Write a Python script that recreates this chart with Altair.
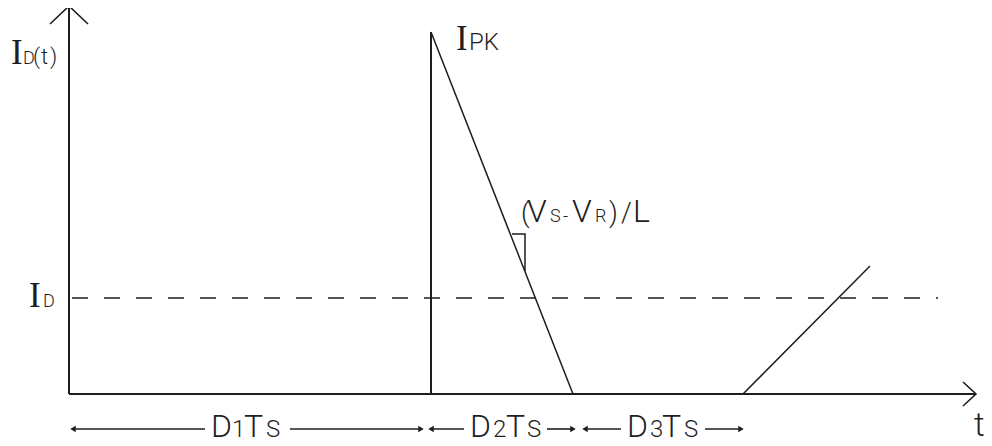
import altair as alt
import pandas as pd

# ---------------- data (t and i in drawing units, origin at the axes corner) ----
wave_t = [0, 362, 362, 504, 674, 801]
wave_i = [0, 0, 362, 0, 0, 128]
I_D_level = 96
I_D_span = [3, 869]
y_axis_top = 388
x_axis_end = 907
slope_t = [443, 456, 456]
slope_i = [160, 160, 123]

dim_names = ["D1Ts", "D2Ts", "D3Ts"]
dim_start = [1, 359, 513]
dim_end = [355, 507, 675]
dim_label_left = [144, 403, 560]
dim_label_right = [213, 470, 628]
dim_level = -35

# label pieces: (text, t, i)
serif_I = [("I", -58, 330), ("I", 387, 344), ("I", -40, 87)]
small18 = [("D", -46, 330), ("D", -26, 87), ("S", 481, 172), ("-", 494, 172), ("R", 526, 172)]
mid22 = [("(", -36, 330), ("t", -28, 330), (")", -19, 330)]
mid24 = [("PK", 400, 344), ("1", 163, -43), ("S", 197, -43), ("2", 424, -43), ("S", 458, -43),
         ("3", 581, -43), ("S", 615, -43)]
big32 = [("V", 458, 172), ("V", 503, 172), ("L", 564, 172),
         ("D", 142, -43), ("T", 175, -43), ("D", 401, -43), ("T", 437, -43),
         ("D", 558, -43), ("T", 593, -43)]
axis_t = [("t", 905, -42)]
paren27 = [("(", 452, 172), (")", 540, 172), ("/", 552, 172)]

# ---------------- scales ----------------
xs = alt.Scale(domain=[-61, 915], nice=False, zero=False)
ys = alt.Scale(domain=[-44, 386], nice=False, zero=False)
INK = "#1e1e1e"


def X(f):
    return alt.X(f, type="quantitative", scale=xs, axis=None)


def Y(f):
    return alt.Y(f, type="quantitative", scale=ys, axis=None)


def polyline(ts, is_, **kw):
    df = pd.DataFrame({"t": ts, "i": is_, "o": list(range(len(ts)))})
    return alt.Chart(df).mark_line(color=INK, **kw).encode(x=X("t"), y=Y("i"), order="o:Q")


layers = []
# axes
layers.append(polyline([0, 0], [0, y_axis_top], strokeWidth=2))
layers.append(polyline([-19, 0, 19], [y_axis_top - 18, y_axis_top, y_axis_top - 18], strokeWidth=1.6))
layers.append(polyline([0, x_axis_end], [0, 0], strokeWidth=2))
layers.append(polyline([x_axis_end - 13, x_axis_end, x_axis_end - 13], [12, 0, -12], strokeWidth=1.6))
# waveform
layers.append(polyline(wave_t[:3], wave_i[:3], strokeWidth=2))
layers.append(polyline(wave_t[2:], wave_i[2:], strokeWidth=1.5))
# I_D dashed level
layers.append(polyline(I_D_span, [I_D_level, I_D_level], strokeWidth=1.6, strokeDash=[16, 16]))
# slope marker
layers.append(polyline(slope_t, slope_i, strokeWidth=1.5))

# dimension arrows
segs = []
heads = []
for k in range(3):
    segs.append({"a": dim_start[k] + 3, "b": dim_label_left[k] - 8, "i": dim_level})
    segs.append({"a": dim_label_right[k] + 8, "b": dim_end[k] - 3, "i": dim_level})
    heads.append({"t": dim_start[k] + 3, "i": dim_level, "s": "triangle-left"})
    heads.append({"t": dim_end[k] - 3, "i": dim_level, "s": "triangle-right"})
seg_df = pd.DataFrame(segs)
head_df = pd.DataFrame(heads)
layers.append(alt.Chart(seg_df).mark_rule(color=INK, strokeWidth=1.6).encode(
    x=X("a"), x2="b:Q", y=Y("i")))
for shp in ["triangle-left", "triangle-right"]:
    layers.append(alt.Chart(head_df[head_df.s == shp]).mark_point(
        shape=shp, filled=True, color=INK, size=40, opacity=1).encode(x=X("t"), y=Y("i")))


def texts(pieces, font, size, weight="normal"):
    df = pd.DataFrame(pieces, columns=["txt", "t", "i"])
    return alt.Chart(df).mark_text(font=font, fontSize=size, fontWeight=weight, color=INK,
                                   align="left", baseline="alphabetic").encode(
        x=X("t"), y=Y("i"), text="txt:N")


layers.append(texts(serif_I, "Liberation Serif", 35))
layers.append(texts(small18, "Roboto", 18, 300))
layers.append(texts(mid22, "Roboto", 22, 300))
layers.append(texts(mid24, "Roboto", 24, 300))
layers.append(texts(big32, "Roboto", 32, 300))
layers.append(texts(axis_t, "Roboto", 33, 300))
layers.append(texts(paren27, "Roboto", 27, 300))

chart = alt.layer(*layers).properties(
    width=976, height=430, padding=0, autosize="none", background="white"
).configure_view(stroke=None)

chart.save("out.html", embed_options={"renderer": "svg", "actions": False})
